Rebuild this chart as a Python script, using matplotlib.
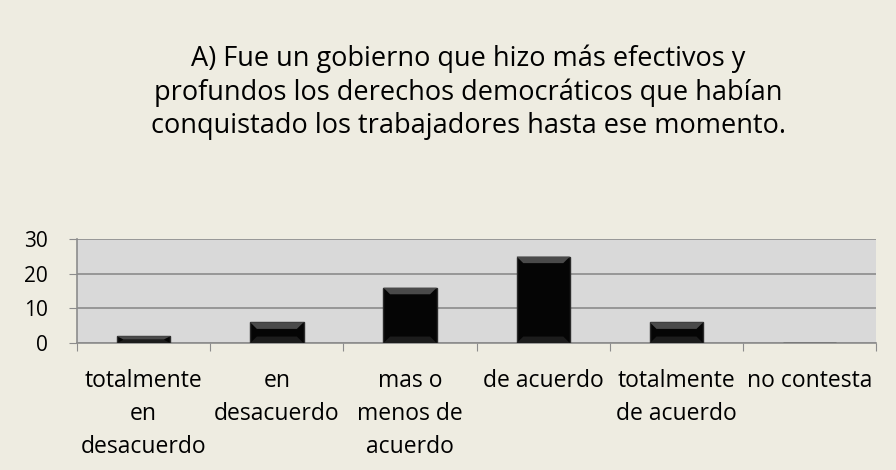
import numpy as np
import matplotlib.pyplot as plt
from matplotlib.patches import Polygon

# Data
categories = ["totalmente\nen\ndesacuerdo", "en\ndesacuerdo", "mas o\nmenos de\nacuerdo",
              "de acuerdo", "totalmente\nde acuerdo", "no contesta"]
values = [2, 6, 16, 25, 6, 0]
yticks = [0, 10, 20, 30]
title = ("A) Fue un gobierno que hizo más efectivos y\n"
         "profundos los derechos democráticos que habían\n"
         "conquistado los trabajadores hasta ese momento.")

plt.rcParams['font.family'] = ['Open Sans', 'DejaVu Sans']

fig = plt.figure(figsize=(8.96, 4.70), dpi=100)
fig.patch.set_facecolor("#EEECE1")
ax = fig.add_axes([0.086, 0.27, 0.892, 0.221])
ax.set_facecolor("#D9D9D9")

x = np.arange(len(categories))
width = 0.4
bars = ax.bar(x, values, width=width, color="#050505", edgecolor="#2a2a2a",
              linewidth=1, zorder=3)

# simple bevel on top and bottom of each bar
for b in bars:
    h = b.get_height()
    if h <= 0:
        continue
    x0 = b.get_x()
    x1 = x0 + b.get_width()
    bev = min(1.9, h / 2)
    d = 0.05
    ax.add_patch(Polygon([(x0, h), (x1, h), (x1 - d, h - bev), (x0 + d, h - bev)],
                         closed=True, facecolor="#4a4a4a", edgecolor="none", zorder=4))
    ax.add_patch(Polygon([(x0, 0), (x1, 0), (x1 - d, bev), (x0 + d, bev)],
                         closed=True, facecolor="#1c1c1c", edgecolor="none", zorder=4))

ax.set_xlim(-0.5, len(categories) - 0.5)
ax.set_ylim(0, 30)
ax.set_yticks(yticks)
ax.set_yticklabels([str(v) for v in yticks], fontsize=15)
ax.yaxis.grid(True, color="#8C8C8C", linewidth=1.2, zorder=1)

# category labels centred, ticks at category boundaries
ax.set_xticks(np.arange(len(categories) + 1) - 0.5)
ax.set_xticklabels([])
ax.set_xticks(x, minor=True)
ax.set_xticklabels(categories, minor=True, fontsize=16.5, linespacing=1.5, va="top")
ax.tick_params(axis="x", which="minor", length=0, pad=19)
ax.tick_params(axis="x", which="major", length=6, color="#8C8C8C")
ax.tick_params(axis="y", length=6, color="#8C8C8C", pad=15)

for side in ["top", "right"]:
    ax.spines[side].set_visible(False)
for side in ["left", "bottom"]:
    ax.spines[side].set_color("#8C8C8C")
    ax.spines[side].set_linewidth(1.2)

fig.text(0.523, 0.905, title, ha="center", va="top", fontsize=19.5, linespacing=1.25)

plt.savefig("out.png", dpi=100, facecolor=fig.get_facecolor())
